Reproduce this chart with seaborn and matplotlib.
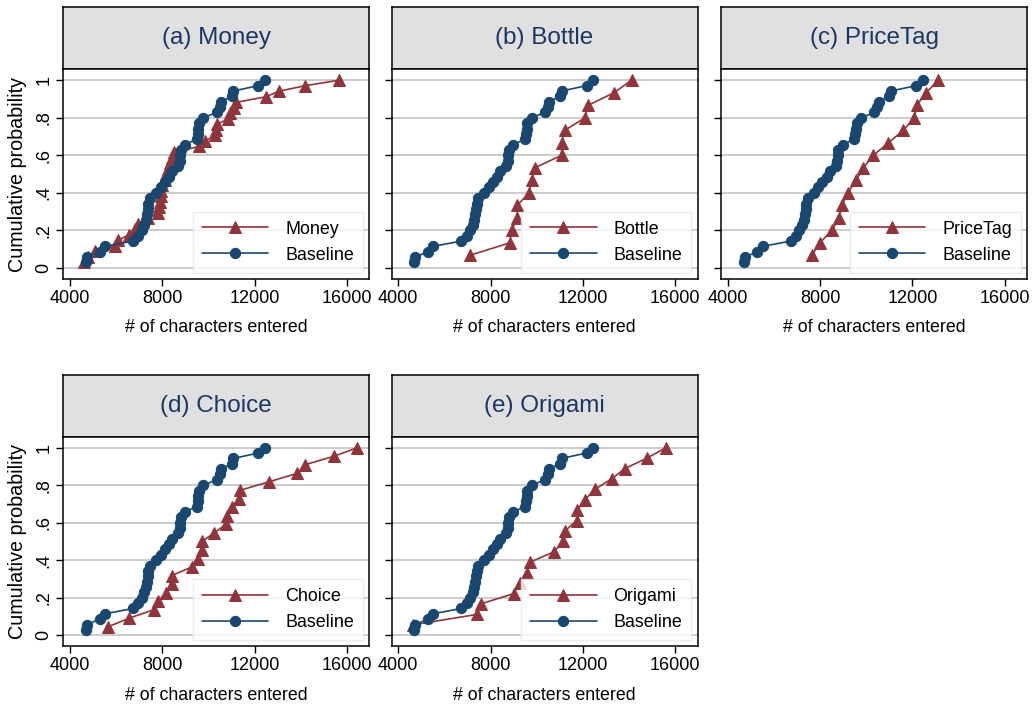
import numpy as np
import pandas as pd
import seaborn as sns
import matplotlib.pyplot as plt

# characters entered per participant
baseline = [4700, 4730, 5290, 5510, 6740, 6960, 7100, 7220, 7290, 7340, 7370, 7400,
            7460, 7720, 7920, 8100, 8280, 8420, 8690, 8750, 8770, 8790, 8980, 9480,
            9530, 9560, 9590, 9780, 10350, 10480, 10540, 11000, 11080, 12160, 12450]
money = [4620, 4800, 5100, 5950, 6100, 6550, 6800, 6960, 7400, 7800, 7850, 7900,
         7920, 7950, 8000, 8100, 8160, 8250, 8330, 8400, 8520, 9600, 9850, 10280,
         10320, 10360, 10850, 10950, 11100, 11200, 12480, 13040, 14160, 15640]
bottle = [7100, 8835, 8910, 9150, 9160, 9670, 9780, 9920, 11075, 11080, 11220,
          12085, 12230, 13340, 14110]
pricetag = [7640, 8000, 8505, 8835, 8940, 9200, 9560, 9875, 10310, 10960, 11610,
            12085, 12190, 12590, 13125]
choice = [5660, 6560, 7640, 7830, 8160, 8400, 8410, 9270, 9530, 9700, 9710, 10250,
          10740, 10790, 11000, 11320, 11370, 12620, 13850, 14180, 15440, 16450]
origami = [4650, 7420, 7570, 9010, 9270, 9560, 9700, 10740, 11145, 11220, 11725,
           11750, 12085, 12520, 13240, 13820, 14780, 15590]

titles = ["(a) Money", "(b) Bottle", "(c) PriceTag", "(d) Choice", "(e) Origami"]
names = ["Money", "Bottle", "PriceTag", "Choice", "Origami"]
treat_data = [money, bottle, pricetag, choice, origami]

x_ticks = [4000, 8000, 12000, 16000]
y_ticks = [0, .2, .4, .6, .8, 1]
y_ticklabels = ["0", ".2", ".4", ".6", ".8", "1"]

RED = "#90353b"
BLUE = "#1a476f"

sns.set_theme(style="white")
plt.rcParams['font.family'] = ['Liberation Sans', 'DejaVu Sans']
plt.rcParams.update({"text.color": "black", "axes.labelcolor": "black",
                     "xtick.color": "black", "ytick.color": "black"})


def ecdf_frame(values):
    v = np.sort(np.asarray(values, dtype=float))
    return pd.DataFrame({"chars": v, "cum": np.arange(1, len(v) + 1) / len(v)})


W, H = 1035, 707
fig = plt.figure(figsize=(W / 100, H / 100), dpi=100)


def add_px_axes(left, top, width, height):
    return fig.add_axes([left / W, 1 - (top + height) / H, width / W, height / H])


lefts = [63.3, 391.5, 721]
tops = [7.3, 374.7]
pw, hh, ph = 306, 62, 209.5

base_df = ecdf_frame(baseline)

for i, (title, name, vals) in enumerate(zip(titles, names, treat_data)):
    row, col = divmod(i, 3)
    left, top = lefts[col], tops[row]

    # header strip
    hax = add_px_axes(left, top, pw, hh)
    hax.set_facecolor("#e0e0e0")
    hax.set_xticks([])
    hax.set_yticks([])
    for s in hax.spines.values():
        s.set_color("black")
        s.set_linewidth(1.1)
    hax.text(0.5, 0.5, title, ha="center", va="center", fontsize=17.5,
             color="#1c3664", transform=hax.transAxes)

    ax = add_px_axes(left, top + hh, pw, ph)
    sns.lineplot(data=ecdf_frame(vals), x="chars", y="cum", ax=ax, sort=False,
                 estimator=None, color=RED, linewidth=1.2, marker="^",
                 markersize=8, markerfacecolor=RED, markeredgecolor=RED,
                 label=name)
    sns.lineplot(data=base_df, x="chars", y="cum", ax=ax, sort=False,
                 estimator=None, color=BLUE, linewidth=1.2, marker="o",
                 markersize=7.4, markerfacecolor=BLUE, markeredgecolor=BLUE,
                 label="Baseline")

    ax.set_xlim(3710, 16963)
    ax.set_ylim(-0.0585, 1.0585)
    ax.set_xticks(x_ticks)
    ax.set_xticklabels([str(t) for t in x_ticks], fontsize=13)
    ax.set_yticks(y_ticks)
    ax.yaxis.grid(True, color="#c8c8c8", linewidth=1.3)
    ax.xaxis.grid(False)
    ax.set_axisbelow(True)
    ax.tick_params(axis="both", direction="out", length=5, width=1,
                   color="black", labelcolor="black", bottom=True, left=True, pad=3)
    for s in ax.spines.values():
        s.set_color("black")
        s.set_linewidth(1.1)

    if col == 0:
        ax.set_yticklabels(y_ticklabels, fontsize=13, rotation=90, va="center")
        ax.set_ylabel("Cumulative probability", fontsize=14.2, labelpad=6)
    else:
        ax.set_yticklabels([])
        ax.set_ylabel("")
    ax.set_xlabel("# of characters entered", fontsize=12.8, labelpad=9)

    leg = ax.legend(loc="lower right", fontsize=12.9, frameon=True,
                    fancybox=False, handlelength=3.7, handletextpad=0.95,
                    borderpad=0.5, labelspacing=0.5, borderaxespad=0.35)
    leg.get_frame().set_edgecolor("#e2eaee")
    leg.get_frame().set_linewidth(1.0)
    for t in leg.get_texts():
        t.set_color("black")

fig.savefig("out.png", dpi=100)
